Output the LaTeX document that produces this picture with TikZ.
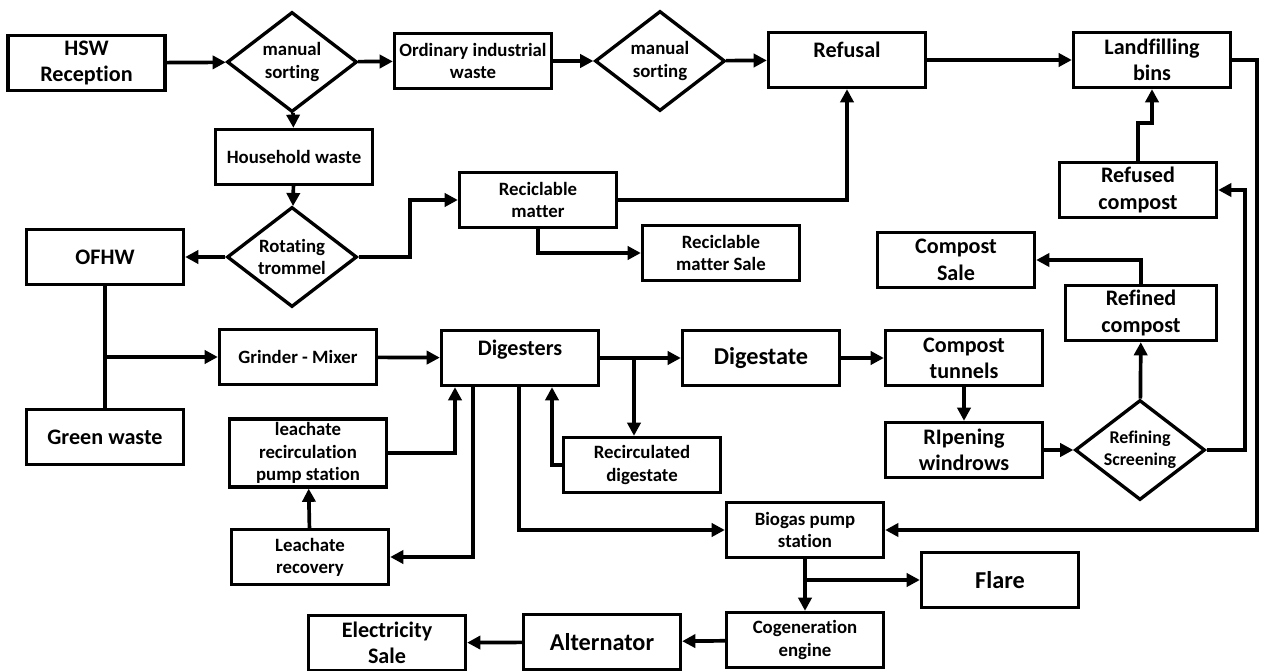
\documentclass[tikz,border=0pt]{standalone}
\usepackage{fontspec}
\setmainfont{Carlito}[Ligatures=NoCommon]
\usetikzlibrary{shapes.geometric,arrows.meta}
\newcommand\smalltxt{\fontsize{10.7}{12.6}\selectfont}
\newcommand\midtxt{\fontsize{12.6}{15}\selectfont}
\newcommand\bigtxt{\fontsize{13.8}{16}\selectfont}
\begin{document}
\begin{tikzpicture}[x=0.2mm,y=-0.2mm,
    box/.style={draw, line width=1.9pt, minimum width=3.14cm, minimum height=1.1cm,
      inner sep=2pt, align=center, font=\bfseries\midtxt},
    small/.style={font=\bfseries\smalltxt},
    large/.style={font=\bfseries\bigtxt},
    choice/.style={draw, diamond, aspect=1.3, line width=1.9pt, minimum width=2.6cm,
      minimum height=2cm, inner sep=0pt, align=center, font=\bfseries\smalltxt},
    flow/.style={line width=2.1pt, -{Triangle[length=7.5pt,width=7.5pt]}},
    link/.style={line width=2.1pt}]
  \useasboundingbox (0,0) rectangle (1262,671);

  \node[box] (hsw) at (86.5,63) {HSW\\Reception};
  \node[choice] (sort1) at (292,62) {manual\\sorting};
  \node[box, small] (industrial) at (473,61) {Ordinary industrial\\waste};
  \node[choice] (sort2) at (660,61) {manual\\sorting};
  \node[box, text depth=12pt] (refusal) at (847,60) {Refusal};
  \node[box] (landfill) at (1152,60) {Landfilling\\bins};
  \node[box, small] (household) at (294,157) {Household waste};
  \node[choice, aspect=1.26] (trommel) at (292,257) {Rotating\\trommel};
  \node[box] (ofhw) at (105,257) {OFHW};
  \node[box, small] (recyclable) at (538,200) {Reciclable\\matter};
  \node[box, small] (recsale) at (721,253) {Reciclable\\matter Sale};
  \node[box] (refused) at (1138,190) {Refused\\compost};
  \node[box] (compsale) at (956,260) {Compost\\Sale};
  \node[box, minimum width=3.02cm] (refined) at (1141,313) {Refined\\compost};
  \node[box, small] (grinder) at (298,357) {Grinder - Mixer};
  \node[box, text depth=12pt] (digesters) at (520,358) {Digesters};
  \node[box, large] (digestate) at (761,358) {Digestate};
  \node[box] (tunnels) at (964,358) {Compost\\tunnels};
  \node[box] (windrows) at (964,450) {RIpening\\windrows};
  \node[choice, font=\bfseries\fontsize{10.2}{12.4}\selectfont] (screening) at (1140,450) {Refining\\Screening};
  \node[box] (green) at (105,437) {Green waste};
  \node[box, small, minimum height=1.36cm] (pump) at (308,453) {leachate\\recirculation\\pump station};
  \node[box, small] (recirc) at (642,465) {Recirculated\\digestate};
  \node[box, small] (recovery) at (310,557) {Leachate\\recovery};
  \node[box, small] (biogas) at (805,530) {Biogas pump\\station};
  \node[box, large] (flare) at (1000,580) {Flare};
  \node[box, small] (cogen) at (805,640) {Cogeneration\\engine};
  \node[box, large] (alternator) at (602,642) {Alternator};
  \node[box] (elecsale) at (387,643) {Electricity\\Sale};

  \coordinate (split) at (634,358);

  \draw[flow] (hsw) -- (sort1);
  \draw[flow] (sort1) -- (industrial);
  \draw[flow] (sort1) -- (household);
  \draw[flow] (industrial) -- (sort2);
  \draw[flow] (sort2) -- (refusal);
  \draw[flow] (refusal) -- (landfill);
  \draw[flow] (household) -- (trommel);
  \draw[flow] (trommel) -- (ofhw);
  \draw[flow] (trommel.east) -- ++(51,0) |- (recyclable.west);
  \draw[flow] (recyclable.east) -| (refusal.south);
  \draw[flow] (recyclable.south) |- (recsale.west);
  \draw[flow] (refused.north) -- ++(0,-38) -| (landfill.south);
  \draw[flow] (landfill.east) -- ++(25,0) |- (biogas.east);
  \draw[flow] (screening.east) -- ++(38,0) |- (refused.east);
  \draw[flow] (screening) -- (refined);
  \draw[flow] (refined.north) |- (compsale.east);
  \draw[flow] (tunnels) -- (windrows);
  \draw[flow] (windrows) -- (screening);
  \draw[flow] (digestate) -- (tunnels);
  \draw[flow] (digesters) -- (digestate);
  \draw[flow] (split) -- (split |- recirc.north);
  \draw[flow] (recirc.west) -| ([xshift=6.4mm]digesters.south);
  \draw[flow] (grinder) -- (digesters);
  \draw[link] (ofhw) -- (green);
  \draw[flow] (ofhw.south |- grinder.west) -- (grinder.west);
  \draw[flow] (pump.east) -| ([xshift=-13mm]digesters.south);
  \draw[flow] ([xshift=-9.4mm]digesters.south) |- (recovery.east);
  \draw[flow] (recovery) -- (pump);
  \draw[flow] ([xshift=-0.2mm]digesters.south) |- (biogas.west);
  \draw[flow] (biogas) -- (cogen);
  \draw[flow] (biogas.south |- flare.west) -- (flare.west);
  \draw[flow] (cogen) -- (alternator);
  \draw[flow] (alternator) -- (elecsale);
\end{tikzpicture}
\end{document}
